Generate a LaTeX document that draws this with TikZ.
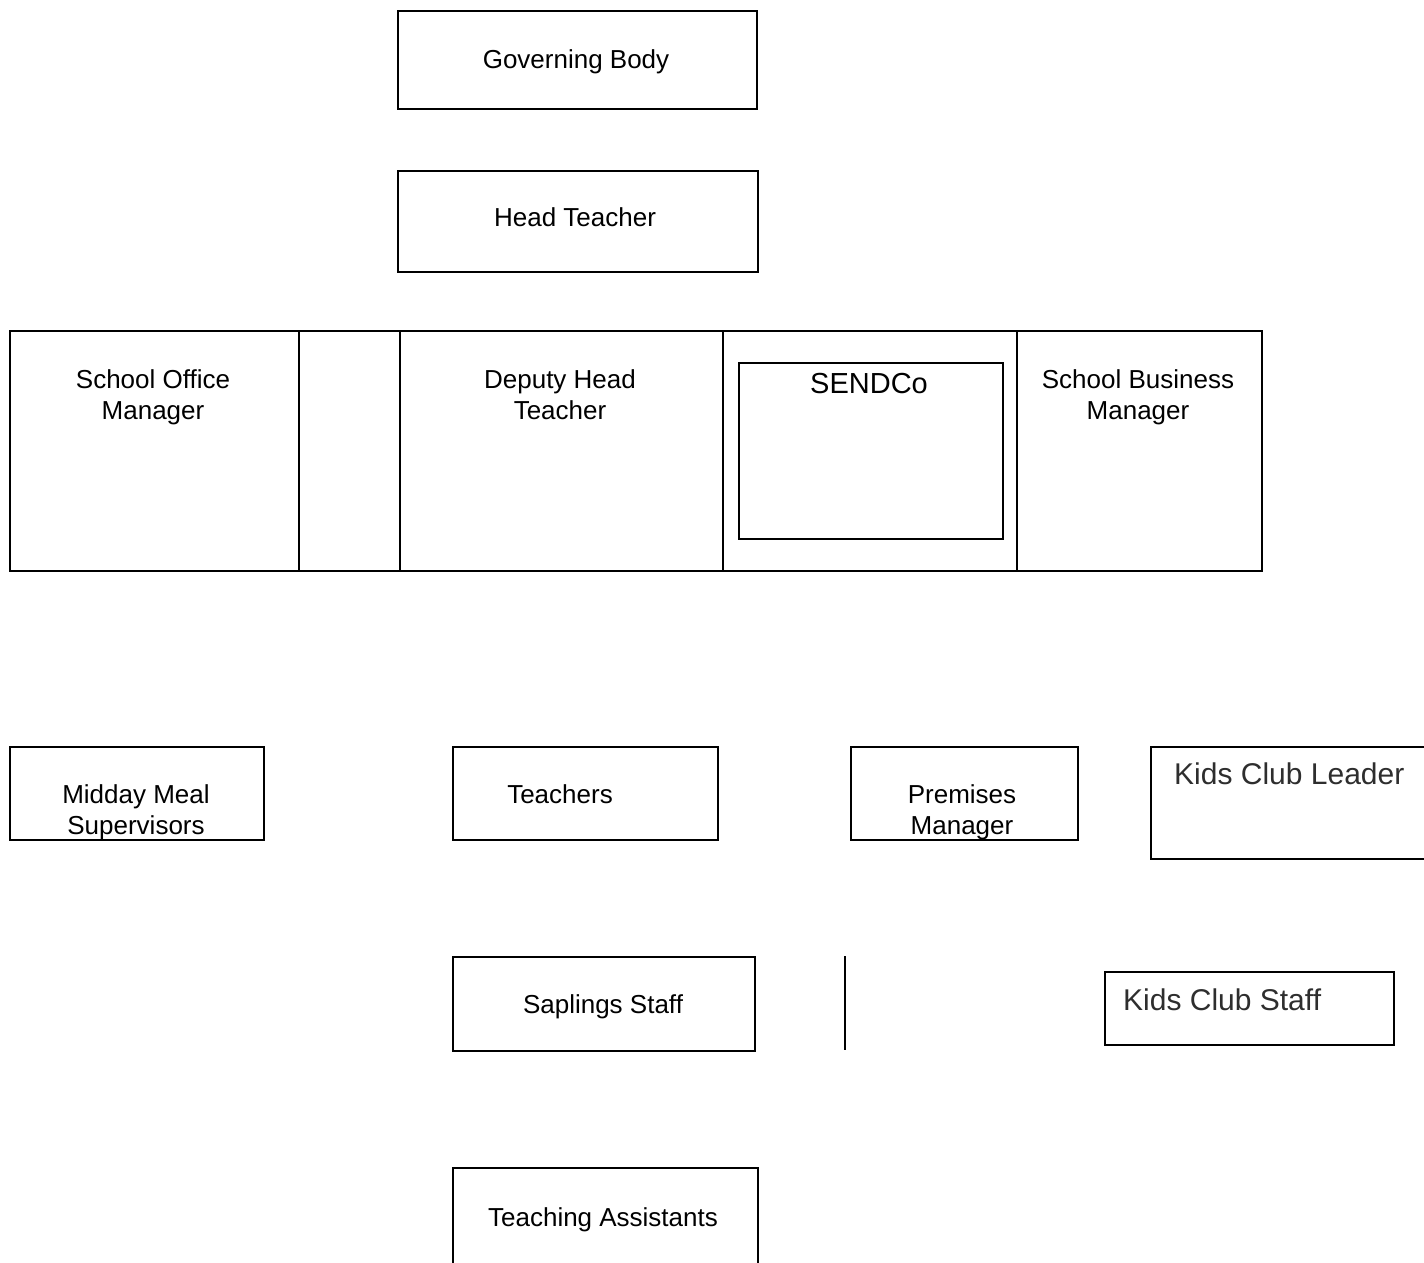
\documentclass[tikz,border=0pt]{standalone}
\usepackage{fontspec}
\setmainfont{Liberation Sans}
\begin{document}
\begin{tikzpicture}[x=1pt,y=-1pt,
  box/.style={draw, line width=2pt, rectangle, inner sep=0pt, anchor=north west},
  thinbox/.style={draw, line width=1.6pt, rectangle, inner sep=0pt, anchor=north west},
  lbl/.style={anchor=base, align=center, inner sep=0pt, font=\fontsize{26}{31}\selectfont},
  kid/.style={anchor=base west, inner sep=0pt, text=black!82, font=\fontsize{30}{36}\selectfont}]
\useasboundingbox (0,0) rectangle (1424,1263);
% boxes
\node[box, minimum width=359pt, minimum height=98pt] (gb) at (397,10) {};
\node[box, minimum width=360pt, minimum height=101pt] (ht) at (397,170) {};
\node[box, minimum width=289pt, minimum height=240pt] (som) at (9,330) {};
\node[box, minimum width=101pt, minimum height=240pt] (gap) at (298,330) {};
\node[box, minimum width=323pt, minimum height=240pt] (dht) at (399,330) {};
\node[box, minimum width=294pt, minimum height=240pt] (sencell) at (722,330) {};
\node[box, minimum width=264pt, minimum height=176pt] (sendco) at (738,362) {};
\node[box, minimum width=245pt, minimum height=240pt] (sbm) at (1016,330) {};
\node[box, minimum width=254pt, minimum height=93pt] (mms) at (9,746) {};
\node[box, minimum width=265pt, minimum height=93pt] (tea) at (452,746) {};
\node[box, minimum width=227pt, minimum height=93pt] (pm) at (850,746) {};
\node[thinbox, minimum width=300pt, minimum height=112pt] (kcl) at (1150,746) {};
\node[box, minimum width=302pt, minimum height=94pt] (ss) at (452,956) {};
\node[thinbox, minimum width=289pt, minimum height=73pt] (kcs) at (1104,971) {};
\node[box, minimum width=305pt, minimum height=110pt] (ta) at (452,1167) {};
% lone vertical line
\coordinate (vt) at (845,956);
\coordinate (vb) at (845,1050);
\draw[line width=2pt] (vt) -- (vb);
% labels (multi-line labels are anchored on their last baseline)
\node[lbl] (tgb) at (576,69) {Governing Body};
\node[lbl] (tht) at (575,226) {Head Teacher};
\node[lbl] (tsom) at (153,419) {School Office\\Manager};
\node[lbl] (tdht) at (560,419) {Deputy Head\\Teacher};
\node[lbl, font=\fontsize{29}{34}\selectfont] (tsen) at (869,393) {SENDCo};
\node[lbl] (tsbm) at (1138,419) {School Business\\Manager};
\node[lbl] (tmms) at (136,834) {Midday Meal\\Supervisors};
\node[lbl] (ttea) at (560,803) {Teachers};
\node[lbl] (tpm) at (962,834) {Premises\\Manager};
\node[kid] (tkcl) at (1174,784) {Kids Club Leader};
\node[lbl] (tss) at (603,1013) {Saplings Staff};
\node[kid] (tkcs) at (1123,1010) {Kids Club Staff};
\node[lbl] (tta) at (603,1226) {Teaching Assistants};
\end{tikzpicture}
\end{document}
